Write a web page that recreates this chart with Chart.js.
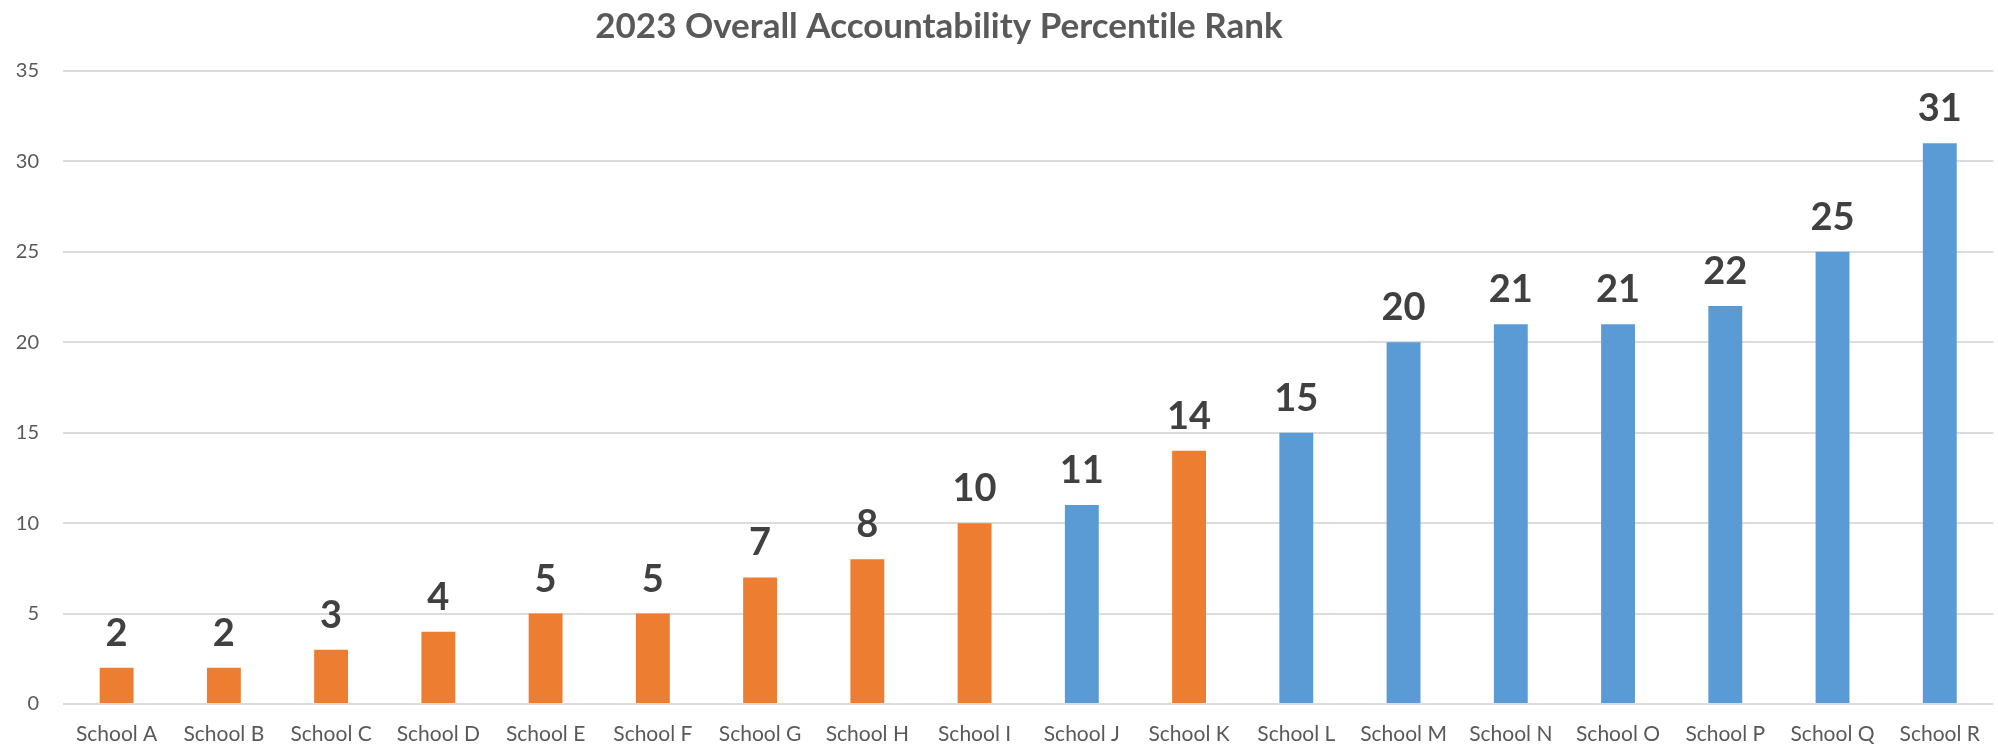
<!DOCTYPE html>
<html>
<head>
<meta charset="utf-8">
<title>2023 Overall Accountability Percentile Rank</title>
<script src="https://cdn.jsdelivr.net/npm/chart.js@4"></script>
<style>
    html, body { margin: 0; padding: 0; background: #ffffff; }
    #wrap { position: relative; width: 1998px; height: 746px; }
</style>
</head>
<body>
<div id="wrap"><canvas id="rankChart"></canvas></div>
<script>
// Data
const chartTitle = '2023 Overall Accountability Percentile Rank';
const schools = ['School A', 'School B', 'School C', 'School D', 'School E', 'School F',
    'School G', 'School H', 'School I', 'School J', 'School K', 'School L',
    'School M', 'School N', 'School O', 'School P', 'School Q', 'School R'];
const percentileRanks = [2, 2, 3, 4, 5, 5, 7, 8, 10, 11, 14, 15, 20, 21, 21, 22, 25, 31];
// schools shown in the orange group (1) vs the blue group (0)
const orangeGroup = [1, 1, 1, 1, 1, 1, 1, 1, 1, 0, 1, 0, 0, 0, 0, 0, 0, 0];
const yTicks = [0, 5, 10, 15, 20, 25, 30, 35];

const ORANGE = '#ED7D31';
const BLUE = '#5B9BD5';

// Value labels above each bar
const barLabels = {
    id: 'barLabels',
    afterDatasetsDraw(chart) {
        const ctx = chart.ctx;
        const meta = chart.getDatasetMeta(0);
        ctx.save();
        ctx.font = 'bold 38px Lato';
        ctx.fillStyle = '#404040';
        ctx.textAlign = 'center';
        ctx.textBaseline = 'alphabetic';
        meta.data.forEach((bar, i) => {
            ctx.fillText(String(percentileRanks[i]), bar.x, bar.y - 22);
        });
        ctx.restore();
    }
};

// Title, sitting a little left of the plot centre like the original
const offsetTitle = {
    id: 'offsetTitle',
    afterDraw(chart) {
        const ctx = chart.ctx;
        ctx.save();
        ctx.font = 'bold 35px Lato';
        ctx.textRendering = 'optimizeSpeed'; // no "ti" ligature
        ctx.fillStyle = '#595959';
        ctx.textAlign = 'center';
        ctx.textBaseline = 'alphabetic';
        ctx.fillText(chartTitle, chart.width / 2 - 60, 38);
        ctx.restore();
    }
};

function initChart() {
    const ctx = document.getElementById('rankChart').getContext('2d');
    new Chart(ctx, {
        type: 'bar',
        data: {
            labels: schools,
            datasets: [{
                label: chartTitle,
                data: percentileRanks,
                backgroundColor: orangeGroup.map(g => g ? ORANGE : BLUE),
                borderWidth: 0,
                categoryPercentage: 1,
                barPercentage: 0.316
            }]
        },
        options: {
            responsive: true,
            maintainAspectRatio: false,
            animation: false,
            layout: {
                padding: { top: 71, right: 1, bottom: 0, left: 0 }
            },
            plugins: {
                legend: { display: false },
                title: { display: false }
            },
            scales: {
                x: {
                    afterFit: scale => {
                        scale.height = 42;
                    },
                    grid: { display: false, drawTicks: false },
                    border: { display: false },
                    ticks: {
                        color: '#595959',
                        font: { family: 'Lato', size: 21 },
                        padding: 18,
                        maxRotation: 0,
                        autoSkip: false
                    }
                },
                y: {
                    min: yTicks[0],
                    max: yTicks[yTicks.length - 1],
                    afterBuildTicks: scale => {
                        scale.ticks = yTicks.map(v => ({ value: v }));
                    },
                    afterFit: scale => {
                        scale.width = 63;
                    },
                    grid: { color: '#dcdcdc', lineWidth: 2, drawTicks: false },
                    border: { display: false },
                    ticks: {
                        color: '#595959',
                        font: { family: 'Lato', size: 20 },
                        padding: 24
                    }
                }
            }
        },
        plugins: [barLabels, offsetTitle]
    });
}

document.addEventListener('DOMContentLoaded', function() {
    initChart();
});
</script>
</body>
</html>
